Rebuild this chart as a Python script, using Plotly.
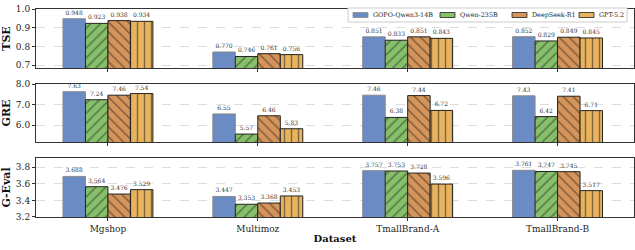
import plotly.graph_objects as go
from plotly.subplots import make_subplots

categories = ["Mgshop", "Multimoz", "TmallBrand-A", "TmallBrand-B"]
models = ["GOPO-Qwen3-14B", "Qwen-235B", "DeepSeek-R1", "GPT-5.2"]

tse = {
    "GOPO-Qwen3-14B": [0.948, 0.770, 0.851, 0.852],
    "Qwen-235B": [0.923, 0.746, 0.833, 0.829],
    "DeepSeek-R1": [0.938, 0.761, 0.851, 0.849],
    "GPT-5.2": [0.934, 0.756, 0.843, 0.845],
}
gre = {
    "GOPO-Qwen3-14B": [7.63, 6.55, 7.46, 7.43],
    "Qwen-235B": [7.24, 5.57, 6.38, 6.42],
    "DeepSeek-R1": [7.46, 6.46, 7.44, 7.41],
    "GPT-5.2": [7.54, 5.83, 6.72, 6.71],
}
geval = {
    "GOPO-Qwen3-14B": [3.688, 3.447, 3.757, 3.761],
    "Qwen-235B": [3.564, 3.353, 3.753, 3.747],
    "DeepSeek-R1": [3.476, 3.368, 3.728, 3.745],
    "GPT-5.2": [3.529, 3.453, 3.596, 3.517],
}

colors = {"GOPO-Qwen3-14B": "#6a8bc3", "Qwen-235B": "#87c06a",
          "DeepSeek-R1": "#d5955a", "GPT-5.2": "#e8b35f"}
patterns = {"GOPO-Qwen3-14B": "", "Qwen-235B": "/", "DeepSeek-R1": "\\", "GPT-5.2": "|"}
edges = {"GOPO-Qwen3-14B": "#8a8a8a", "Qwen-235B": "#222222",
         "DeepSeek-R1": "#222222", "GPT-5.2": "#222222"}

fig = make_subplots(rows=3, cols=1, shared_xaxes=False, vertical_spacing=0.07)

panels = [(tse, "{:.3f}", "TSE"), (gre, "{:.2f}", "GRE"), (geval, "{:.3f}", "G-Eval")]
font = "DejaVu Serif"
for r, (data, fmt, name) in enumerate(panels, start=1):
    for m in models:
        vals = data[m]
        fig.add_trace(go.Bar(
            x=categories, y=vals, name=m, showlegend=False,
            marker=dict(color=colors[m], line=dict(color=edges[m], width=1),
                        pattern=dict(shape=patterns[m], fgcolor="#1a1a1a",
                                     size=7, solidity=0.2, fillmode="overlay")),
            text=[fmt.format(v) for v in vals], textposition="outside",
            outsidetextfont=dict(family=font, size=6, color="#333333"),
            cliponaxis=False, constraintext="none", textangle=0,
        ), row=r, col=1)

domains = [[0.716, 1.0], [0.361, 0.639], [0.0, 0.284]]
yranges = [[0.684, 1.0], [5.19, 8.0], [3.2, 3.91]]
ytick = [[0.7, 0.8, 0.9, 1.0], [6.0, 7.0, 8.0], [3.2, 3.4, 3.6, 3.8]]
ytext = [["0.7", "0.8", "0.9", "1.0"], ["6.0", "7.0", "8.0"], ["3.2", "3.4", "3.6", "3.8"]]
for i in range(3):
    ax = "" if i == 0 else str(i + 1)
    fig.layout["yaxis" + ax].update(
        domain=domains[i], range=yranges[i], tickvals=ytick[i], ticktext=ytext[i],
        showgrid=True, gridcolor="#dddddd", griddash="dash", gridwidth=0.6,
        showline=True, linecolor="#333333", linewidth=1, mirror=True,
        ticks="outside", ticklen=3, tickcolor="#333333",
        tickfont=dict(family=font, size=9, color="#222222"),
        title=dict(text="<b>" + panels[i][2] + "</b>", font=dict(family=font, size=11, color="#111111"),
                   standoff=4),
        zeroline=False, automargin=False,
    )
    fig.layout["xaxis" + ax].update(
        range=[-0.48, 3.51], showline=True, linecolor="#333333", linewidth=1, mirror=True,
        ticks="outside", ticklen=3, tickcolor="#333333", showgrid=False,
        showticklabels=(i == 2), tickfont=dict(family=font, size=9, color="#222222"),
        automargin=False,
    )
fig.layout["xaxis3"].update(title=dict(text="<b>Dataset</b>", font=dict(family=font, size=10, color="#111111"),
                                       standoff=2))

# manual legend (pixel layout converted to paper coords)
L, R, T, B = 36, 634, 9, 217
def px(x):
    return (x - L) / (R - L)
def py(y):
    return (B - y) / (B - T)

shapes = [dict(type="rect", xref="paper", yref="paper", x0=px(348), x1=px(627), y0=py(22), y1=py(8),
               fillcolor="white", line=dict(color="#cccccc", width=1), layer="above")]
annotations = []
sw_x = [353, 440, 512, 579]
for m, sx in zip(models, sw_x):
    shapes.append(dict(type="rect", xref="paper", yref="paper", x0=px(sx), x1=px(sx + 15),
                       y0=py(17.5), y1=py(12.5), fillcolor=colors[m],
                       line=dict(color=edges[m], width=0.8), layer="above"))
    annotations.append(dict(x=px(sx + 18), y=py(15), xref="paper", yref="paper", text=m,
                            showarrow=False, xanchor="left", yanchor="middle",
                            font=dict(family=font, size=6.4, color="#222222")))

fig.update_layout(
    width=635, height=250, barmode="group", bargap=0.4, bargroupgap=0,
    margin=dict(l=L, r=635 - R, t=T, b=250 - B, autoexpand=False),
    plot_bgcolor="white", paper_bgcolor="white",
    showlegend=False, shapes=shapes, annotations=annotations,
    font=dict(family=font),
)

fig.write_html("out.html", config={"displayModeBar": False},
               post_script="document.body.style.margin='0';document.body.style.padding='0';")
